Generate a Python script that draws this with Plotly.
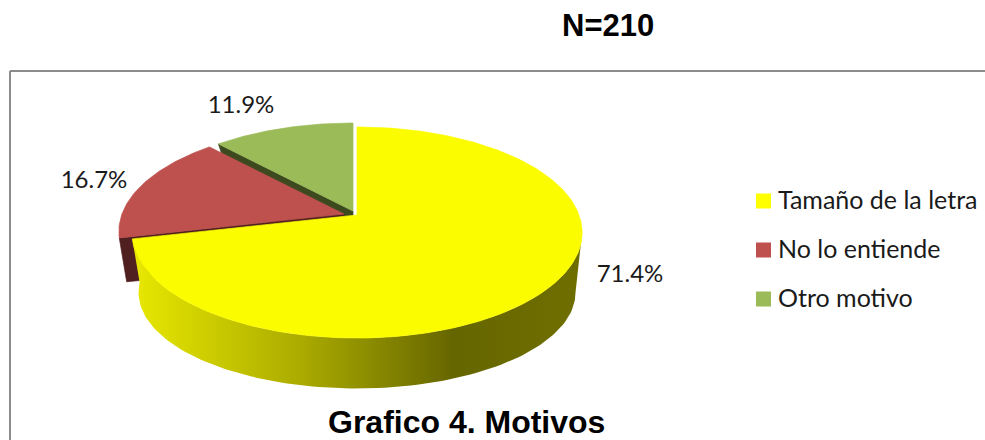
import numpy as np
import plotly.graph_objects as go

categories = ['Tamaño de la letra', 'No lo entiende', 'Otro motivo']
values = [71.4, 16.7, 11.9]
labels = ['71.4%', '16.7%', '11.9%']
colors = ['#FCFC00', '#BE504D', '#9BBB59']
wall_colors = ['#666600', '#502020', '#3D4A20']

# slice apex on the page, each slice is pulled out a bit
apex = [(357, 215), (344, 214), (353, 211)]
label_pos = [(630, 276), (94, 182), (241, 107)]
legend_x = [763.5, 763.5, 763.5]
legend_text_x = [778, 778, 778]
legend_y = [201, 250, 299]

# top and bottom rim of the pie, perspective squeezes the far side
TOP = dict(rx=222, ry=102.6, k=0.166, drop=0)
BOTTOM = dict(rx=207, ry=86, k=0.32, drop=47)

# shading of the outer wall from left to right
wall_stops = [[0, 'rgb(230,230,0)'], [0.37, 'rgb(171,171,0)'], [0.72, 'rgb(102,102,0)'], [1, 'rgb(110,110,0)']]


def rim(center, deg, plane):
    a = np.radians(deg)
    s = 1 / (1 + plane['k'] * np.cos(a))
    x = center[0] + plane['rx'] * np.sin(a) * s
    y = center[1] + plane['drop'] - plane['ry'] * np.cos(a) * s
    return x, y


def poly(fig, xs, ys, color):
    fig.add_trace(go.Scatter(x=xs, y=ys, mode='lines', fill='toself', fillcolor=color,
                             line=dict(color=color, width=0.7), hoverinfo='skip', showlegend=False))


# slices start at 12 o'clock, going clockwise
edges = np.cumsum([0] + values) / sum(values) * 360

fig = go.Figure()

# back slices first, then the big yellow one on top
for i in [2, 1]:
    start, end = edges[i], edges[i + 1]
    x0, y0 = rim(apex[i], start, TOP)
    x1, y1 = rim(apex[i], start, BOTTOM)
    ax0, ay0 = apex[i]
    ax1, ay1 = apex[i][0], apex[i][1] + BOTTOM['drop']
    poly(fig, [ax0, x0, x1, ax1, ax0], [ay0, y0, y1, ay1, ay0], wall_colors[i])
    deg = np.linspace(start, end, 60)
    xs, ys = rim(apex[i], deg, TOP)
    poly(fig, [ax0, *xs, ax0], [ay0, *ys, ay0], colors[i])

# outer wall of the yellow slice, from the right silhouette of each rim
top_deg = np.linspace(np.degrees(np.arccos(-TOP['k'])), edges[1], 120)
bottom_deg = np.linspace(edges[1], np.degrees(np.arccos(-BOTTOM['k'])), 120)
xa, ya = rim(apex[0], top_deg, TOP)
xb, yb = rim(apex[0], bottom_deg, BOTTOM)
fig.add_trace(go.Scatter(x=[*xa, *xb, xa[0]], y=[*ya, *yb, ya[0]], mode='lines', fill='toself',
                         line=dict(width=0), hoverinfo='skip', showlegend=False,
                         fillgradient=dict(type='horizontal', colorscale=wall_stops, start=139, stop=575)))

deg = np.linspace(edges[0], edges[1], 240)
xs, ys = rim(apex[0], deg, TOP)
poly(fig, [apex[0][0], *xs, apex[0][0]], [apex[0][1], *ys, apex[0][1]], colors[0])

# data labels
fig.add_trace(go.Scatter(x=[p[0] for p in label_pos], y=[p[1] for p in label_pos], mode='text',
                         text=labels, textposition='middle center', hoverinfo='skip', showlegend=False,
                         textfont=dict(family='Lato', size=24, color='#1a1a1a')))

# legend
fig.add_trace(go.Scatter(x=legend_x, y=legend_y, mode='markers', hoverinfo='skip', showlegend=False,
                         marker=dict(symbol='square', size=15, color=['#FFFF00', colors[1], colors[2]])))
fig.add_trace(go.Scatter(x=legend_text_x, y=[v + 2 for v in legend_y], mode='text', text=categories,
                         textposition='middle right', hoverinfo='skip', showlegend=False,
                         textfont=dict(family='Lato', size=25, color='#1a1a1a')))

# chart frame, only top and left are in the picture
fig.add_shape(type='line', x0=10, y0=71, x1=985, y1=71, line=dict(color='#8C8C8C', width=2))
fig.add_shape(type='line', x0=10, y0=71, x1=10, y1=440, line=dict(color='#8C8C8C', width=2))

fig.add_annotation(x=608, y=25, text='<b>N=210</b>', showarrow=False,
                   font=dict(family='Liberation Sans', size=31, color='black'))
fig.add_annotation(x=466, y=422, text='<b>Grafico 4. Motivos</b>', showarrow=False,
                   font=dict(family='Liberation Sans', size=32, color='black'))

fig.update_xaxes(range=[0, 985], visible=False)
fig.update_yaxes(range=[440, 0], visible=False)
fig.update_layout(width=985, height=440, margin=dict(l=0, r=0, t=0, b=0),
                  paper_bgcolor='white', plot_bgcolor='white', showlegend=False)
fig.write_html("out.html", config=dict(displayModeBar=False),
               post_script="document.body.style.margin='0'; document.body.style.overflow='hidden';")
